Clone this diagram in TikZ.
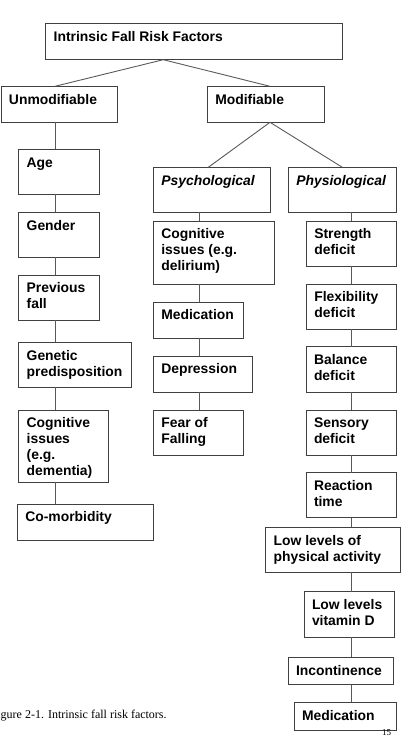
\documentclass[tikz,border=0pt]{standalone}
\usepackage{fontspec}
\newfontfamily\boxfont{Liberation Sans}
\newfontfamily\capfont{Liberation Serif}
\usetikzlibrary{calc}
\newcommand\mylines[1]{\begin{tabular}[t]{@{}l@{}}#1\end{tabular}}
\tikzset{
  box/.style={draw=black!75, line width=0.9pt, rectangle, inner sep=0pt, outer sep=0pt, fill=white},
  txt/.style={inner sep=0pt, outer sep=0pt, font=\boxfont\bfseries\fontsize{13.9}{16}\selectfont},
  conn/.style={draw=black!65, line width=0.9pt},
}
\newcommand\bx[6]{%
  \node[box, anchor=north west, minimum width={#4pt-#2pt}, minimum height={#5pt-#3pt}] (#1) at (#2,#3) {};
  \node[txt, anchor=base west] (#1-t) at ($(#1.north west)+(8,17.8)$) {\mylines{#6}};}
\begin{document}
\begin{tikzpicture}[x=1pt, y=-1pt]
\useasboundingbox (0,0) rectangle (404,738);
% boxes
\bx{top}{45.7}{23.3}{342.3}{59.7}{Intrinsic Fall Risk Factors}
\bx{unmod}{1}{86.3}{117.7}{122.3}{Unmodifiable}
\bx{mod}{207.3}{86.3}{324.3}{122.3}{Modifiable}
\bx{age}{18.7}{149.3}{99.7}{194}{Age}
\bx{gender}{18.7}{212.3}{99.7}{257}{Gender}
\bx{prev}{18.7}{275}{99.7}{320}{Previous\\fall}
\bx{genetic}{18.7}{342.3}{131.3}{387.3}{Genetic\\predisposition}
\bx{cogd}{18.7}{410}{108.7}{482.3}{Cognitive\\issues\\(e.g.\\dementia)}
\bx{comorb}{17.3}{504}{153.7}{540.3}{Co-morbidity}
\bx{psych}{153.3}{167.3}{270.3}{212}{\itshape Psychological}
\bx{physio}{288.3}{167.3}{396.3}{212}{\itshape Physiological}
\bx{cogdel}{153.3}{221}{274.3}{284.3}{Cognitive\\issues (e.g.\\delirium)}
\bx{medA}{153.3}{302}{243.7}{338.3}{Medication}
\bx{depr}{153.3}{356}{252.3}{392}{Depression}
\bx{fear}{153.3}{410}{243.3}{455}{Fear of\\Falling}
\bx{strength}{306.3}{221}{396.3}{266}{Strength\\deficit}
\bx{flex}{306.3}{284}{396.3}{329}{Flexibility\\deficit}
\bx{balance}{306}{346.7}{396}{392.3}{Balance\\deficit}
\bx{sensory}{306}{410}{396}{455}{Sensory\\deficit}
\bx{reaction}{306}{472.7}{396}{517.7}{Reaction\\time}
\bx{lowpa}{265.7}{527.3}{400.3}{572.3}{Low levels of\\physical activity}
\bx{vitd}{304}{591.7}{394}{637}{Low levels\\vitamin D}
\bx{incont}{288}{657.3}{393.7}{684.7}{Incontinence}
\bx{medB}{294}{702.3}{396}{730}{Medication}
% column coordinates
\coordinate (cL) at (55,0);
\coordinate (cP) at (199,0);
\coordinate (cR) at (351,0);
\coordinate (cT) at (163.3,0);
\coordinate (cM) at (270,0);
\coordinate (cPs) at (208.3,0);
% connectors
\draw[conn] (top.south -| cT) -- (unmod.north -| cL);
\draw[conn] (top.south -| cT) -- (mod.north -| cM);
\draw[conn] (mod.south -| cM) -- (psych.north -| cPs);
\draw[conn] (mod.south -| cM) -- (physio.north);
\foreach \a/\b in {unmod/age, age/gender, gender/prev, prev/genetic, genetic/cogd, cogd/comorb}
  \draw[conn] (\a.south -| cL) -- (\b.north -| cL);
\foreach \a/\b in {psych/cogdel, cogdel/medA, medA/depr, depr/fear}
  \draw[conn] (\a.south -| cP) -- (\b.north -| cP);
\foreach \a/\b in {physio/strength, strength/flex, flex/balance, balance/sensory, sensory/reaction, reaction/lowpa, lowpa/vitd, vitd/incont, incont/medB}
  \draw[conn] (\a.south -| cR) -- (\b.north -| cR);
% caption and page number
\node[inner sep=0pt, anchor=base west, font=\capfont\fontsize{12}{14}\selectfont] (cap) at (0.5,718) {gure 2-1. Intrinsic fall risk factors.};
\node[inner sep=0pt, anchor=base west, font=\capfont\fontsize{9}{11}\selectfont] (pg) at (382,735.2) {15};
\end{tikzpicture}
\end{document}
